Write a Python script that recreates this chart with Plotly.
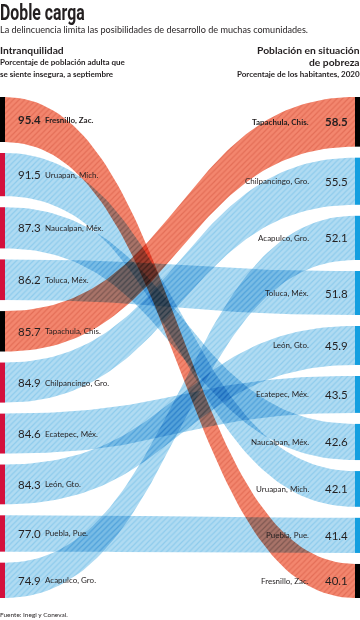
import numpy as np
import plotly.graph_objects as go

# ---------------- data ----------------
left_cities = ["Fresnillo, Zac.", "Uruapan, Mich.", "Naucalpan, Méx.", "Toluca, Méx.",
               "Tapachula, Chis.", "Chilpancingo, Gro.", "Ecatepec, Méx.", "León, Gto.",
               "Puebla, Pue.", "Acapulco, Gro."]
left_values = [95.4, 91.5, 87.3, 86.2, 85.7, 84.9, 84.6, 84.3, 77.0, 74.9]

right_cities = ["Tapachula, Chis.", "Chilpancingo, Gro.", "Acapulco, Gro.", "Toluca, Méx.",
                "León, Gto.", "Ecatepec, Méx.", "Naucalpan, Méx.", "Uruapan, Mich.",
                "Puebla, Pue.", "Fresnillo, Zac."]
right_values = [58.5, 55.5, 52.1, 51.8, 45.9, 43.5, 42.6, 42.1, 41.4, 40.1]

highlight = ["Fresnillo, Zac.", "Tapachula, Chis."]

# ---------------- layout helpers ----------------
W, H = 360, 620
TOP, BOTTOM, GAP = 97, 598, 11
XL0, XL1 = 0, 5        # left bar
XR0, XR1 = 355, 360    # right bar
FONT = "Lato, 'Open Sans', sans-serif"
TXT = "#231f20"


def stack(values):
    total = BOTTOM - TOP - GAP * (len(values) - 1)
    k = total / sum(values)
    out, y = [], TOP
    for v in values:
        out.append((y, y + v * k))
        y += v * k + GAP
    return out


left_pos = dict(zip(left_cities, stack(left_values)))
right_pos = dict(zip(right_cities, stack(right_values)))


def bez(ya, yb, x0, x1, n=80):
    t = np.linspace(0, 1, n)
    xm = (x0 + x1) / 2
    x = (1 - t) ** 3 * x0 + 3 * (1 - t) ** 2 * t * xm + 3 * (1 - t) * t ** 2 * xm + t ** 3 * x1
    y = (1 - t) ** 3 * ya + 3 * (1 - t) ** 2 * t * ya + 3 * (1 - t) * t ** 2 * yb + t ** 3 * yb
    return x, y


fig = go.Figure()

order = [c for c in left_cities if c not in highlight] + [c for c in left_cities if c in highlight]
for c in order:
    (a0, a1), (b0, b1) = left_pos[c], right_pos[c]
    xt, yt = bez(a0, b0, XL1, XR0)
    xb, yb = bez(a1, b1, XL1, XR0)
    xs = np.concatenate([xt, xb[::-1], xt[:1]])
    ys = np.concatenate([yt, yb[::-1], yt[:1]])
    if c in highlight:
        bg, fg = "#f3866e", "#d4553f"
    else:
        bg, fg = "#b0dbf2", "#6cbce6"
    fig.add_trace(go.Scatter(
        x=xs, y=ys, mode="lines", line=dict(width=0), fill="toself",
        fillcolor=bg,
        fillpattern=dict(shape="/", bgcolor=bg, fgcolor=fg, size=4, solidity=0.3),
        hoverinfo="skip", showlegend=False))

shapes = []
annotations = []
for c, v in zip(left_cities, left_values):
    y0, y1 = left_pos[c]
    col = "#000000" if c in highlight else "#d3103c"
    shapes.append(dict(type="rect", xref="x", yref="y", x0=XL0, x1=XL1, y0=y0, y1=y1,
                       fillcolor=col, line=dict(width=0), layer="above"))
    bold = c == left_cities[0]
    ym = (y0 + y1) / 2
    annotations.append(dict(x=16, y=ym, xref="x", yref="y", xanchor="left", yanchor="middle",
                            text=(f"<b>{v:.1f}</b>" if bold else f"{v:.1f}"), showarrow=False,
                            font=dict(family=FONT, size=11.5, color=TXT)))
    annotations.append(dict(x=43, y=ym, xref="x", yref="y", xanchor="left", yanchor="middle",
                            text=(f"<b>{c}</b>" if bold else c), showarrow=False,
                            font=dict(family=FONT, size=8, color=TXT)))

for c, v in zip(right_cities, right_values):
    y0, y1 = right_pos[c]
    col = "#000000" if c in highlight else "#139fe0"
    shapes.append(dict(type="rect", xref="x", yref="y", x0=XR0, x1=XR1, y0=y0, y1=y1,
                       fillcolor=col, line=dict(width=0), layer="above"))
    bold = c == right_cities[0]
    ym = (y0 + y1) / 2
    annotations.append(dict(x=311, y=ym, xref="x", yref="y", xanchor="right", yanchor="middle",
                            text=(f"<b>{c}</b>" if bold else c), showarrow=False,
                            font=dict(family=FONT, size=8, color=TXT)))
    annotations.append(dict(x=323, y=ym, xref="x", yref="y", xanchor="left", yanchor="middle",
                            text=(f"<b>{v:.1f}</b>" if bold else f"{v:.1f}"), showarrow=False,
                            font=dict(family=FONT, size=11.5, color=TXT)))


def txt(x, y, s, size, anchor="left", bold=False, family=FONT, weight=None):
    f = dict(family=family, size=size, color=TXT)
    if weight:
        f["weight"] = weight
    annotations.append(dict(x=x / W, y=1 - y / H, xref="paper", yref="paper",
                            xanchor=anchor, yanchor="middle",
                            text=(f"<b>{s}</b>" if bold else s), showarrow=False, font=f))


txt(-2, 12.5, "Doble carga", 22, family="Roboto, sans-serif", weight=700)
txt(-2, 30, "La delincuencia limita las posibilidades de desarrollo de muchas comunidades.", 9.1)
txt(-2, 50, "Intranquilidad", 10.3, bold=True)
txt(-2, 62, "Porcentaje de población adulta que", 8, bold=True)
txt(-2, 74, "se siente insegura, a septiembre", 8, bold=True)
txt(362, 50, "Población en situación", 10.3, anchor="right", bold=True)
txt(362, 62, "de pobreza", 10.3, anchor="right", bold=True)
txt(362, 74, "Porcentaje de los habitantes, 2020", 8, anchor="right", bold=True)
txt(-2, 614, "Fuente: Inegi y Coneval.", 6.5)

fig.update_layout(
    width=W, height=H, margin=dict(l=0, r=0, t=0, b=0),
    paper_bgcolor="white", plot_bgcolor="white",
    xaxis=dict(range=[0, W], visible=False, fixedrange=True),
    yaxis=dict(range=[H, 0], visible=False, fixedrange=True),
    shapes=shapes, annotations=annotations, showlegend=False,
)

post = """
document.body.style.margin='0px';document.body.style.padding='0px';
var gd = document.getElementById('{plot_id}');
gd.querySelectorAll('.scatterlayer .fills path, .scatterlayer path.js-fill').forEach(function(p){
  p.style.mixBlendMode='multiply';
});
gd.querySelectorAll('.annotation-text').forEach(function(t){
  if (t.textContent.indexOf('Doble carga') >= 0) {
    t.style.transformBox='fill-box';
    t.style.transformOrigin='0% 50%';
    t.style.transform='scaleX(0.72)';
  }
});
"""

fig.write_html("out.html", config={"displayModeBar": False}, post_script=post)
